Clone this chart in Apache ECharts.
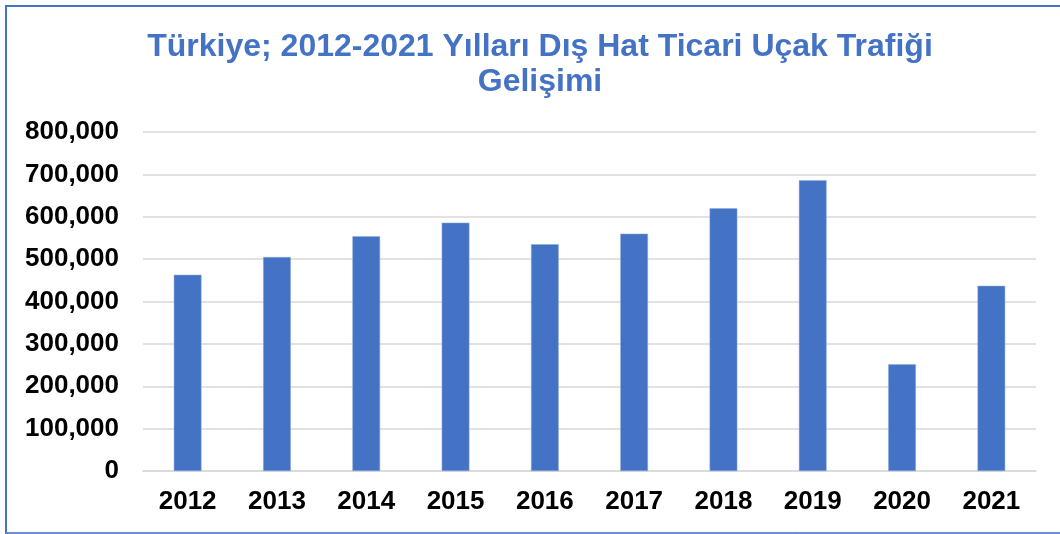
<!DOCTYPE html>
<html>
<head>
<meta charset="utf-8">
<script src="https://cdn.jsdelivr.net/npm/echarts@6/dist/echarts.min.js"></script>
<style>
html,body{margin:0;padding:0;background:#fff;}
#main{width:1060px;height:534px;}
</style>
</head>
<body>
<div id="main"></div>
<script>
var years=["2012","2013","2014","2015","2016","2017","2018","2019","2020","2021"];
var traffic=[463000,505000,554000,586000,535000,560000,620000,686000,252000,437000];
var titleText="Türkiye; 2012-2021 Yılları Dış Hat Ticari Uçak Trafiği\nGelişimi";

var myChart=echarts.init(document.getElementById('main'));
var fmt=function(v){
    return String(v).replace(/\B(?=(\d{3})+(?!\d))/g,",");
};
var options={
    animation:false,
    title:{
        text:titleText,
        left:535,
        top:25,
        textAlign:'center',
        textStyle:{
            color:"#4472C4",
            fontSize:32,
            fontWeight:"bold",
            fontFamily:"Liberation Sans",
            lineHeight:35
        }
    },
    graphic:[
        {
            type:'rect',
            shape:{x:6,y:6,width:1070,height:527},
            style:{fill:null,stroke:"#4472C4",lineWidth:2}
        },
        {
            type:'line',
            shape:{x1:6,y1:533,x2:1060,y2:533},
            style:{stroke:"#8FAADC",lineWidth:1}
        }
    ],
    grid:{
        left:143,
        right:24,
        top:132,
        bottom:63
    },
    xAxis:{
        type:'category',
        data:years,
        axisLine:{show:true,lineStyle:{color:"#d9d9d9",width:1.5}},
        axisTick:{show:false},
        axisLabel:{
            interval:0,
            margin:18,
            color:"#000",
            fontSize:26,
            fontWeight:"bold",
            fontFamily:"Liberation Sans"
        }
    },
    yAxis:{
        type:'value',
        min:0,
        max:800000,
        interval:100000,
        axisLine:{show:false},
        axisTick:{show:false},
        axisLabel:{
            margin:24,
            color:"#000",
            fontSize:26,
            fontWeight:"bold",
            fontFamily:"Liberation Sans",
            formatter:fmt
        },
        splitLine:{lineStyle:{color:"#d9d9d9",width:1.5}}
    },
    series:[
        {
            type:'bar',
            data:traffic,
            barWidth:'31%',
            itemStyle:{color:"#4472C4",borderColor:"#8FAADC",borderWidth:0.5}
        }
    ]
};
myChart.setOption(options);
</script>
</body>
</html>
